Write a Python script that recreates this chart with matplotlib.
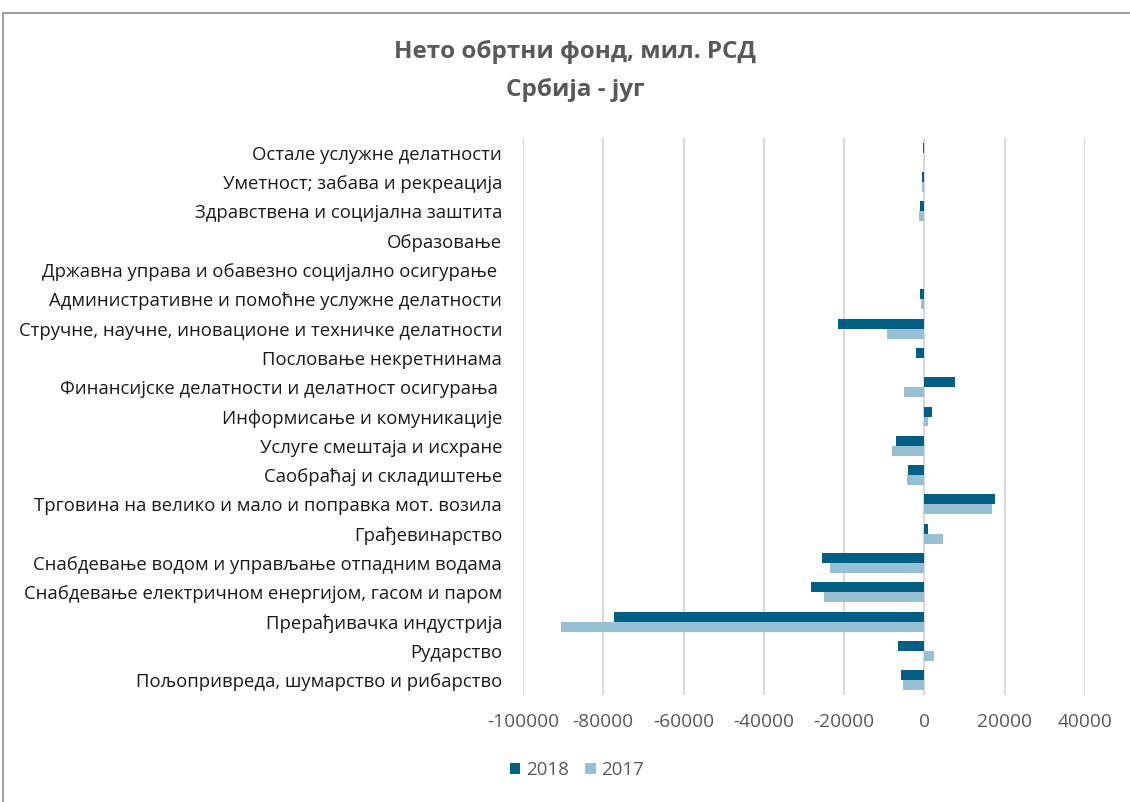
import matplotlib
matplotlib.use("Agg")
import matplotlib.pyplot as plt
import numpy as np
from matplotlib.patches import Rectangle

# категорије одоздо према горе
categories = [
    "Пољопривреда, шумарство и рибарство",
    "Рударство",
    "Прерађивачка индустрија",
    "Снабдевање електричном енергијом, гасом и паром",
    "Снабдевање водом и управљање отпадним водама",
    "Грађевинарство",
    "Трговина на велико и мало и поправка мот. возила",
    "Саобраћај и складиштење",
    "Услуге смештаја и исхране",
    "Информисање и комуникације",
    "Финансијске делатности и делатност осигурања ",
    "Пословање некретнинама",
    "Стручне, научне, иновационе и техничке делатности",
    "Административне и помоћне услужне делатности",
    "Државна управа и обавезно социјално осигурање ",
    "Образовање",
    "Здравствена и социјална заштита",
    "Уметност; забава и рекреација",
    "Остале услужне делатности",
]
vals_2018 = [-5900, -6500, -77300, -28200, -25600, 800, 17700, -4000, -7100, 1800,
             7600, -2200, -21500, -1200, 0, 0, -1100, -600, -300]
vals_2017 = [-5300, 2300, -90600, -25100, -23600, 4600, 16900, -4300, -8200, 800,
             -5100, 0, -9300, -800, 0, 0, -1300, -500, -200]
x_ticks = [-100000, -80000, -60000, -40000, -20000, 0, 20000, 40000]

col_2018 = "#005F83"
col_2017 = "#97C0D4"
txt = "#595959"

plt.rcParams["font.family"] = ["Open Sans", "DejaVu Sans"]

fig = plt.figure(figsize=(11.3, 8.02), dpi=100)
fig.patches.append(Rectangle((3 / 1130, -0.1), 1.2, 1 - 13 / 802 + 0.1, transform=fig.transFigure,
                             fill=False, edgecolor="#8C8C8C", linewidth=1.2))

ax = fig.add_axes([523 / 1130, 107 / 802, 562 / 1130, 557 / 802])
y = np.arange(len(categories))
h = 0.34
ax.barh(y + h / 2, vals_2018, height=h, color=col_2018, label="2018", zorder=3)
ax.barh(y - h / 2, vals_2017, height=h, color=col_2017, label="2017", zorder=3)

ax.set_xlim(-100000, 40000)
ax.set_ylim(-0.5, len(categories) - 0.5)
ax.set_xticks(x_ticks)
ax.set_xticklabels([str(v) for v in x_ticks])
ax.set_yticks(y)
ax.set_yticklabels(categories)
ax.tick_params(axis="both", length=0)
ax.tick_params(axis="x", labelsize=13.8, colors=txt, pad=13)
ax.tick_params(axis="y", labelsize=13.3, colors="#1A1A1A", pad=15)
ax.grid(axis="x", color="#D9D9D9", linewidth=1.5, zorder=0)
for s in ax.spines.values():
    s.set_visible(False)

fig.text(575 / 1130, 1 - 52 / 802, "Нето обртни фонд, мил. РСД", ha="center", va="center",
         fontsize=17.5, fontweight="bold", color=txt)
fig.text(575 / 1130, 1 - 90 / 802, "Србија - југ", ha="center", va="center",
         fontsize=17.5, fontweight="bold", color=txt)

fig.legend(loc="center", bbox_to_anchor=(577 / 1130, 1 - 770 / 802), ncol=2, frameon=False,
           fontsize=13.5, labelcolor=txt, handlelength=0.55, handleheight=0.55,
           handletextpad=0.3, columnspacing=0.9)

fig.savefig("out.png", dpi=100)
